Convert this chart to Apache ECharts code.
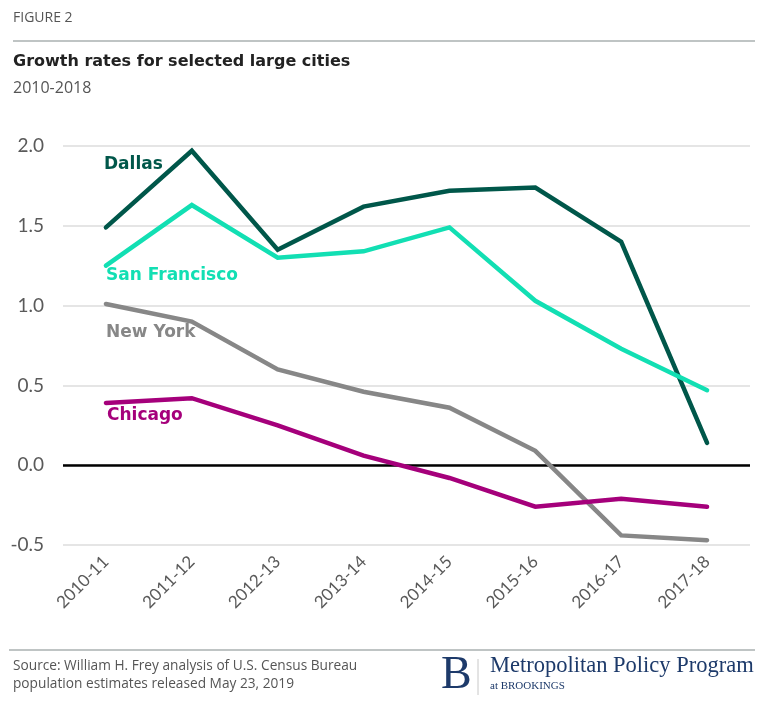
<!DOCTYPE html>
<html>
<head>
<meta charset="utf-8">
<script src="https://cdn.jsdelivr.net/npm/echarts@6/dist/echarts.min.js"></script>
<style>html,body{margin:0;padding:0;background:#fff}#c{width:768px;height:713px}</style>
</head>
<body>
<div id="c"></div>
<script>
var categories = ['2010-11','2011-12','2012-13','2013-14','2014-15','2015-16','2016-17','2017-18'];
var dallas = [1.49, 1.97, 1.35, 1.62, 1.72, 1.74, 1.40, 0.14];
var sanFrancisco = [1.25, 1.63, 1.30, 1.34, 1.49, 1.03, 0.73, 0.47];
var newYork = [1.01, 0.90, 0.60, 0.46, 0.36, 0.09, -0.44, -0.47];
var chicago = [0.39, 0.42, 0.25, 0.06, -0.08, -0.26, -0.21, -0.26];
var yTicks = [-0.5, 0.0, 0.5, 1.0, 1.5, 2.0];

var FONT = 'Lato';
var WIDE = '"Open Sans"';
var BOLD = '"DejaVu Sans"';
var chart = echarts.init(document.getElementById('c'));
function line(name, data, color) {
  return {
    name: name, type: 'line', data: data, symbol: 'none',
    lineStyle: {color: color, width: 4.5, cap: 'round', join: 'miter'},
    itemStyle: {color: color}, z: 3
  };
}
var series = [
  line('Dallas', dallas, '#00574a'),
  line('San Francisco', sanFrancisco, '#12dfb3'),
  line('New York', newYork, '#878787'),
  line('Chicago', chicago, '#a5007b')
];
series[3].markLine = {
  silent: true, symbol: 'none', label: {show: false},
  lineStyle: {color: '#000', width: 2.5, type: 'solid'},
  data: [{yAxis: 0}], z: 2
};
chart.setOption({
  animation: false,
  textStyle: {fontFamily: FONT},
  grid: {left: 63, right: 18, top: 146, bottom: 168, containLabel: false},
  xAxis: {
    type: 'category', data: categories, boundaryGap: true,
    axisLine: {show: false}, axisTick: {show: false},
    axisLabel: {rotate: 45, color: '#5a5a5a', fontSize: 17, fontFamily: FONT, margin: 14}
  },
  yAxis: {
    type: 'value', min: yTicks[0], max: yTicks[yTicks.length - 1], interval: 0.5,
    axisLine: {show: false}, axisTick: {show: false},
    axisLabel: {color: '#5a5a5a', fontSize: 19, fontFamily: FONT, margin: 19,
      formatter: function (v) { return v.toFixed(1); }},
    splitLine: {lineStyle: {color: '#dcdcdc', width: 1.5}}
  },
  series: series,
  graphic: [
    {type: 'text', left: 13, top: 11, style: {text: 'FIGURE 2', fill: '#555', font: '14px ' + WIDE}},
    {type: 'line', shape: {x1: 13, y1: 41, x2: 755, y2: 41}, style: {stroke: '#aab0b0', lineWidth: 1.5}},
    {type: 'text', left: 13, top: 54, style: {text: 'Growth rates for selected large cities', fill: '#222', font: 'bold 16px ' + BOLD}},
    {type: 'text', left: 13, top: 80, style: {text: '2010-2018', fill: '#555', font: '16px ' + WIDE}},
    {type: 'text', left: 104, top: 156, style: {text: 'Dallas', fill: '#00574a', font: 'bold 17px ' + BOLD}},
    {type: 'text', left: 106, top: 267, style: {text: 'San Francisco', fill: '#12dfb3', font: 'bold 17px ' + BOLD}},
    {type: 'text', left: 106, top: 324, style: {text: 'New York', fill: '#878787', font: 'bold 17px ' + BOLD}},
    {type: 'text', left: 107, top: 407, style: {text: 'Chicago', fill: '#a5007b', font: 'bold 17px ' + BOLD}},
    {type: 'line', shape: {x1: 9, y1: 650, x2: 755, y2: 650}, style: {stroke: '#aab0b0', lineWidth: 1.5}},
    {type: 'text', left: 13, top: 659, style: {text: 'Source: William H. Frey analysis of U.S. Census Bureau', fill: '#555', font: '13.7px ' + WIDE}},
    {type: 'text', left: 13, top: 677, style: {text: 'population estimates released May 23, 2019', fill: '#555', font: '13.7px ' + WIDE}},
    {type: 'text', left: 441, top: 653, style: {text: 'B', fill: '#1d3a6a', font: '46px "Liberation Serif"'}},
    {type: 'line', shape: {x1: 478, y1: 659, x2: 478, y2: 695}, style: {stroke: '#c8c8c8', lineWidth: 1}},
    {type: 'text', left: 490, top: 655, style: {text: 'Metropolitan Policy Program', fill: '#1d3a6a', font: '22.5px "Liberation Serif"'}},
    {type: 'text', left: 490, top: 681, style: {text: 'at BROOKINGS', fill: '#1d3a6a', font: '11px "Liberation Serif"'}}
  ]
});
</script>
</body>
</html>
